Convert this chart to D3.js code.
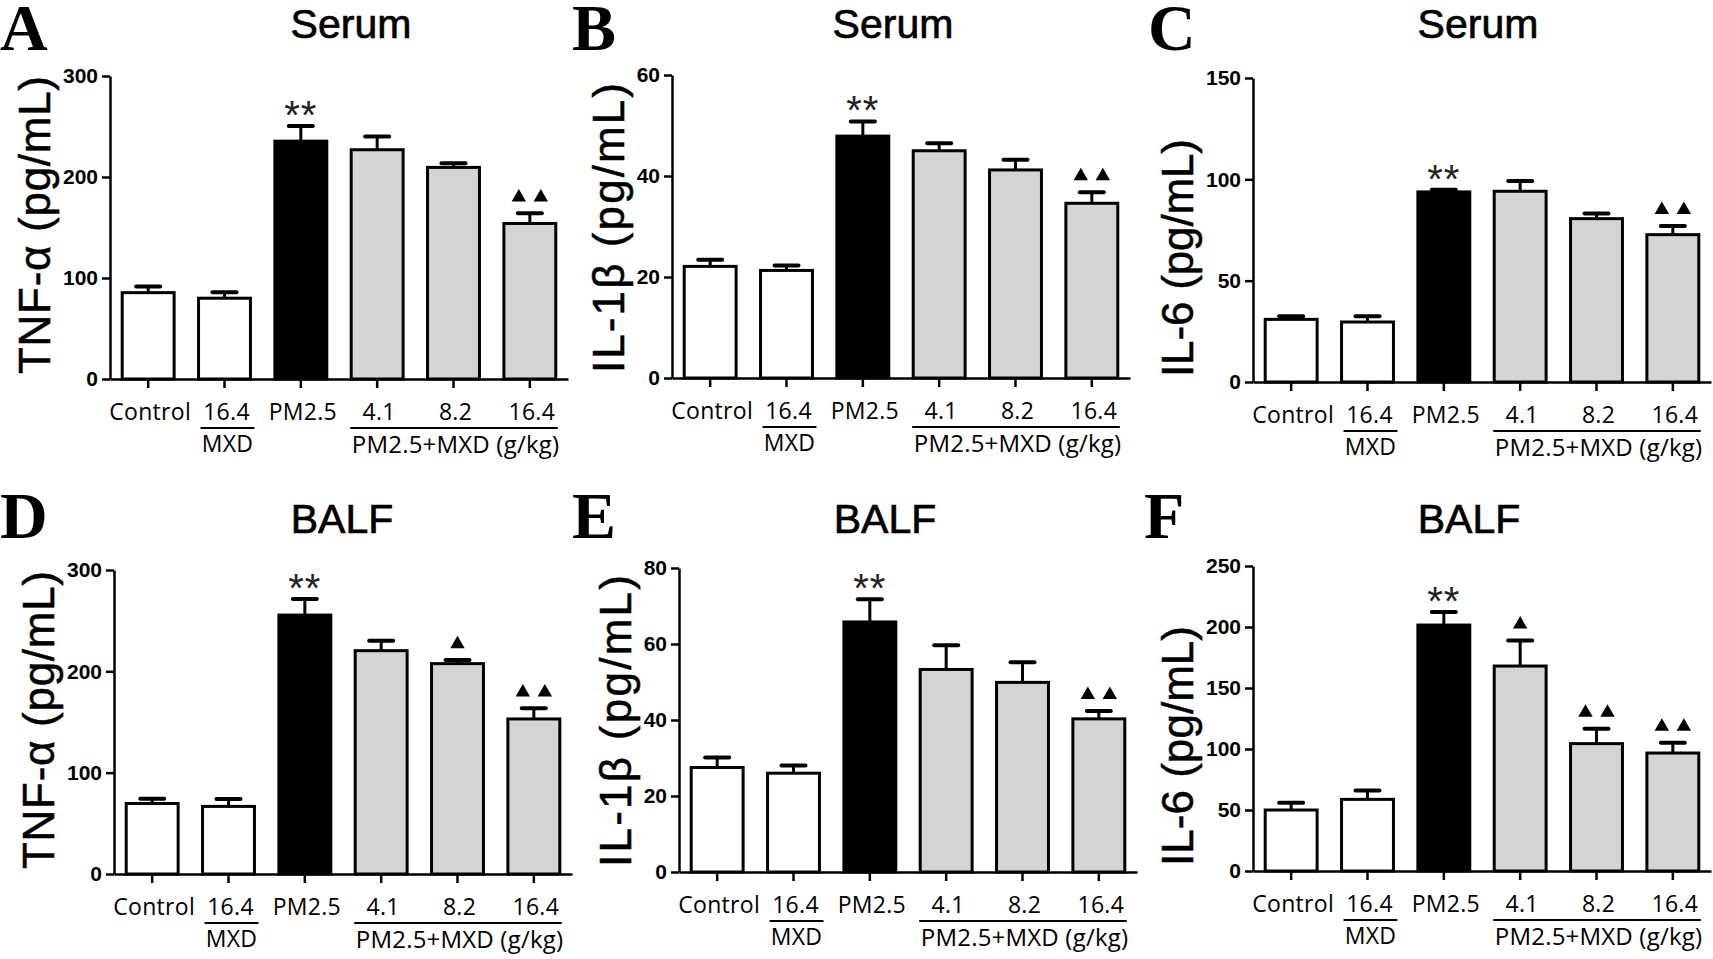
<!DOCTYPE html>
<html>
<head>
<meta charset="utf-8">
<script src="https://cdn.jsdelivr.net/npm/d3@7/dist/d3.min.js"></script>
<style>
  html, body { margin: 0; padding: 0; background: #fff; }
  svg { display: block; }
</style>
</head>
<body>
<svg id="chart" width="1713" height="959"></svg>
<script>
// ---------------- DATA ----------------
const categories = ["Control", "MXD 16.4", "PM2.5", "PM2.5+MXD 4.1", "PM2.5+MXD 8.2", "PM2.5+MXD 16.4"];
const tickLabels = ["Control", "16.4", "PM2.5", "4.1", "8.2", "16.4"];
const groupLabelMXD = "MXD";
const groupLabelCombo = "PM2.5+MXD (g/kg)";

const tnfSerumMean = [85.5, 80, 235.5, 227, 209.5, 154];
const tnfSerumErr  = [6, 6, 15, 13, 4, 10];
const il1bSerumMean = [22.1, 21.3, 47.9, 45.0, 41.2, 34.6];
const il1bSerumErr  = [1.3, 1.0, 2.9, 1.5, 2.0, 2.2];
const il6SerumMean = [30.9, 29.6, 93.8, 94.1, 80.6, 72.7];
const il6SerumErr  = [1.5, 2.8, 1.1, 5.1, 2.5, 4.3];
const tnfBalfMean = [69.6, 66.7, 255.5, 220.4, 207.6, 153];
const tnfBalfErr  = [4.6, 7.2, 15.8, 9.8, 3.6, 10.5];
const il1bBalfMean = [27.5, 26.0, 65.8, 53.3, 49.9, 40.3];
const il1bBalfErr  = [2.6, 2.0, 6.0, 6.4, 5.3, 2.1];
const il6BalfMean = [50, 58.7, 201.6, 168, 104.4, 96.7];
const il6BalfErr  = [6, 7.3, 10.7, 21, 12.3, 8.5];

const sigA = ["", "", "**", "", "", "2"];
const sigB = ["", "", "**", "", "", "2"];
const sigC = ["", "", "**", "", "", "2"];
const sigD = ["", "", "**", "", "1", "2"];
const sigE = ["", "", "**", "", "", "2"];
const sigF = ["", "", "**", "1", "2", "2"];

const ticks300 = [0, 100, 200, 300];
const ticks60 = [0, 20, 40, 60];
const ticks150 = [0, 50, 100, 150];
const ticks80 = [0, 20, 40, 60, 80];
const ticks250 = [0, 50, 100, 150, 200, 250];

const fills = ["#ffffff", "#ffffff", "#000000", "#d4d4d4", "#d4d4d4", "#d4d4d4"];

// ---------------- LAYOUT ----------------
const panels = [
  {letter: "A", title: "Serum", ylabel: "TNF-\u03b1 (pg/mL)", mean: tnfSerumMean, err: tnfSerumErr, sig: sigA, max: 300, ticks: ticks300,
   ax: 110, top: 76, base: 379, lx: 0, ly: 50, tx: 351, ty: 38, len: 298},
  {letter: "B", title: "Serum", ylabel: "IL-1\u03b2 (pg/mL)", mean: il1bSerumMean, err: il1bSerumErr, sig: sigB, max: 60, ticks: ticks60,
   ax: 672, top: 75, base: 378, lx: 572, ly: 50, tx: 893, ty: 38, len: 290},
  {letter: "C", title: "Serum", ylabel: "IL-6 (pg/mL)", mean: il6SerumMean, err: il6SerumErr, sig: sigC, max: 150, ticks: ticks150,
   ax: 1253, top: 78, base: 382, lx: 1148, ly: 50, tx: 1478, ty: 38, len: 238},
  {letter: "D", title: "BALF", ylabel: "TNF-\u03b1 (pg/mL)", mean: tnfBalfMean, err: tnfBalfErr, sig: sigD, max: 300, ticks: ticks300,
   ax: 114, top: 570, base: 874, lx: 0, ly: 538, tx: 342, ty: 533, len: 298},
  {letter: "E", title: "BALF", ylabel: "IL-1\u03b2 (pg/mL)", mean: il1bBalfMean, err: il1bBalfErr, sig: sigE, max: 80, ticks: ticks80,
   ax: 679, top: 568, base: 872, lx: 572, ly: 538, tx: 885, ty: 533, len: 292},
  {letter: "F", title: "BALF", ylabel: "IL-6 (pg/mL)", mean: il6BalfMean, err: il6BalfErr, sig: sigF, max: 250, ticks: ticks250,
   ax: 1253, top: 566, base: 871, lx: 1144, ly: 538, tx: 1469, ty: 533, len: 240}
];

const svg = d3.select("#chart");
const SANS = "'Liberation Sans', Arial, sans-serif";
const LABF = "'Open Sans', 'Liberation Sans', sans-serif";

panels.forEach(p => {
  const g = svg.append("g");
  const x = d3.scaleBand().domain(categories).range([p.ax, p.ax + 458]).paddingInner(0.32).paddingOuter(0.16);
  const y = d3.scaleLinear().domain([0, p.max]).range([p.base, p.top]);
  const bw = x.bandwidth();

  // panel letter
  g.append("text").attr("x", p.lx).attr("y", p.ly)
    .attr("font-family", "'Liberation Serif', 'Times New Roman', serif")
    .attr("font-weight", "bold").attr("font-size", 66).text(p.letter);
  // title
  g.append("text").attr("x", p.tx).attr("y", p.ty).attr("text-anchor", "middle")
    .attr("font-family", SANS).attr("font-size", 41)
    .attr("stroke", "#000").attr("stroke-width", 0.7).text(p.title);

  // bars
  const rows = categories.map((c, i) => ({c, i, v: p.mean[i], e: p.err[i], s: p.sig[i]}));
  g.selectAll("rect.bar").data(rows).join("rect").attr("class", "bar")
    .attr("x", d => x(d.c)).attr("y", d => y(d.v))
    .attr("width", bw).attr("height", d => p.base - y(d.v))
    .attr("fill", d => fills[d.i]).attr("stroke", "#000").attr("stroke-width", 3);

  // error bars
  g.selectAll("line.err").data(rows).join("line").attr("class", "err")
    .attr("x1", d => x(d.c) + bw / 2).attr("x2", d => x(d.c) + bw / 2)
    .attr("y1", d => y(d.v)).attr("y2", d => y(d.v + d.e))
    .attr("stroke", "#000").attr("stroke-width", 3);
  g.selectAll("line.cap").data(rows).join("line").attr("class", "cap")
    .attr("x1", d => x(d.c) + bw / 2 - 12).attr("x2", d => x(d.c) + bw / 2 + 12)
    .attr("y1", d => y(d.v + d.e)).attr("y2", d => y(d.v + d.e))
    .attr("stroke", "#000").attr("stroke-width", 4).attr("stroke-linecap", "round");

  // significance marks
  rows.forEach(d => {
    const cx = x(d.c) + bw / 2;
    const cy = y(d.v + d.e) - 17;
    if (d.s === "**") {
      g.append("text").attr("x", cx).attr("y", cy + 0.5 * 40).attr("text-anchor", "middle")
        .attr("font-family", SANS).attr("font-size", 40).attr("fill", "#222")
        .attr("letter-spacing", 1).text("**");
    } else if (d.s === "1" || d.s === "2") {
      const offs = d.s === "1" ? [0] : [-11, 11];
      offs.forEach(o => {
        g.append("path").attr("d", d3.symbol().type(d3.symbolTriangle).size(90)())
          .attr("transform", `translate(${cx + o},${cy + 1})`).attr("fill", "#000");
      });
    }
  });

  // axes
  const yAxis = g.append("g").attr("transform", `translate(${p.ax},0)`)
    .call(d3.axisLeft(y).tickValues(p.ticks).tickSize(8).tickSizeOuter(0).tickPadding(4));
  yAxis.select(".domain").attr("stroke-width", 2.5);
  yAxis.selectAll(".tick line").attr("stroke-width", 2.5);
  yAxis.selectAll(".tick text").attr("font-family", SANS).attr("font-weight", "bold")
    .attr("font-size", 21).attr("fill", "#000");

  const xAxis = g.append("g").attr("transform", `translate(0,${p.base})`)
    .call(d3.axisBottom(x).tickSize(9).tickSizeOuter(0).tickFormat(""));
  xAxis.select(".domain").attr("stroke-width", 2.5);
  xAxis.selectAll(".tick line").attr("stroke-width", 2.5);

  // x labels
  g.selectAll("text.xl").data(rows).join("text").attr("class", "xl")
    .attr("x", d => x(d.c) + bw / 2 + 2).attr("y", p.base + 41).attr("text-anchor", "middle")
    .attr("font-family", LABF).attr("font-size", 23).attr("font-weight", 500).attr("letter-spacing", 0.3)
    .text(d => tickLabels[d.i]);

  // group brackets
  g.append("line").attr("x1", x(categories[1]) + 2).attr("x2", x(categories[1]) + bw + 4)
    .attr("y1", p.base + 49).attr("y2", p.base + 49).attr("stroke", "#000").attr("stroke-width", 2);
  g.append("text").attr("x", x(categories[1]) + bw / 2 + 3).attr("y", p.base + 73).attr("text-anchor", "middle")
    .attr("font-family", LABF).attr("font-size", 23).attr("font-weight", 500).attr("letter-spacing", 0.3).text(groupLabelMXD);
  g.append("line").attr("x1", x(categories[3]) - 1).attr("x2", x(categories[5]) + bw + 2)
    .attr("y1", p.base + 49).attr("y2", p.base + 49).attr("stroke", "#000").attr("stroke-width", 2);
  g.append("text").attr("x", (x(categories[3]) + x(categories[5]) + bw) / 2 + 2).attr("y", p.base + 74)
    .attr("text-anchor", "middle").attr("font-family", LABF).attr("font-size", 24).attr("font-weight", 500)
    .attr("letter-spacing", 0.2).text(groupLabelCombo);

  // y label
  let maxW = 0;
  yAxis.selectAll(".tick text").each(function () { maxW = Math.max(maxW, this.getBBox().width); });
  const lxp = p.ax - 12 - maxW - 13;
  g.append("text").attr("transform", `translate(${lxp},${p.base - 5}) rotate(-90)`)
    .attr("font-family", SANS).attr("font-size", 44).attr("text-anchor", "start")
    .attr("stroke", "#000").attr("stroke-width", 0.5)
    .attr("textLength", p.len).attr("lengthAdjust", "spacing")
    .text(p.ylabel);
});
</script>
</body>
</html>
